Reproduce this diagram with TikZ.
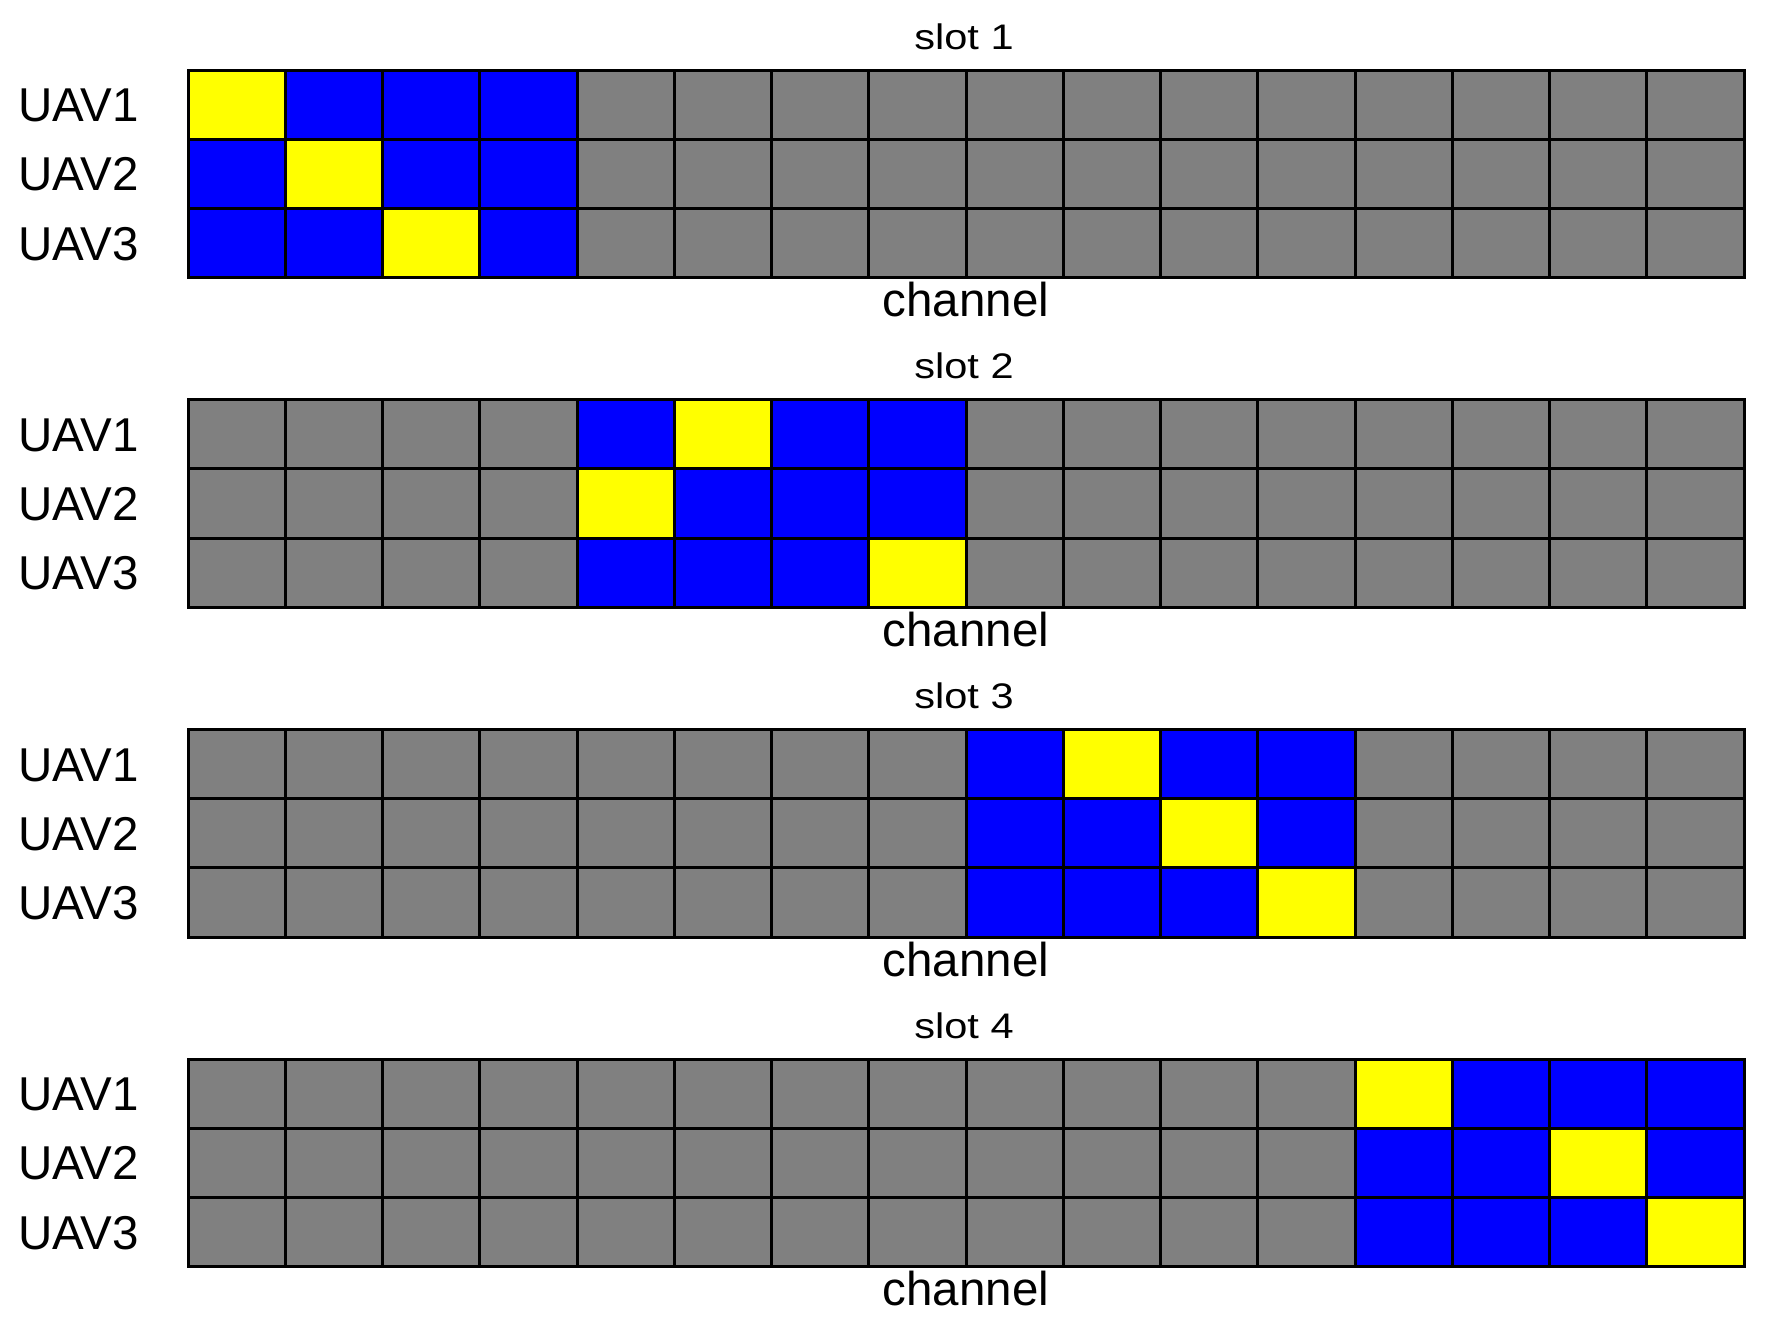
\documentclass[tikz,border=0pt]{standalone}
\usepackage{fontspec}
\setmainfont{Liberation Sans}
\newfontfamily\slotfont[FakeStretch=1.17]{Liberation Sans}
\definecolor{cell0}{RGB}{128,128,128}
\definecolor{cell1}{RGB}{0,0,255}
\definecolor{cell2}{RGB}{255,255,0}
\begin{document}
\begin{tikzpicture}[x=1pt,y=-1pt,
  cellbox/.style={line width=3pt,draw=black},
  lab/.style={font=\fontsize{47.5}{56}\selectfont,inner sep=0pt},
  slotlab/.style={font=\slotfont\fontsize{35.5}{40}\selectfont,inner sep=0pt}]
\useasboundingbox (0,0) rectangle (1772,1331);
\def\cw{97.25}
\def\rh{69.2}
\foreach \s/\ya/\yb/\yc [count=\sn] in {0/0/1/2,1/1/0/3,2/1/2/3,3/0/2/3} {
  \pgfmathsetmacro\tp{70+329.7*\s}
  \pgfmathtruncatemacro\act{4*\s}
  \foreach \r/\y [count=\rn] in {0/\ya,1/\yb,2/\yc} {
    \foreach \c in {0,...,15} {
      \pgfmathtruncatemacro\code{(\c>=\act && \c<\act+4) ? ((\c==\act+\y) ? 2 : 1) : 0}
      \filldraw[cellbox,fill=cell\code] (188+\cw*\c,\tp+\rh*\r) rectangle ++(\cw,\rh);
    }
    \node[lab,anchor=base west] (uav\sn\rn) at (18,\tp+\rh*\r+\rh/2+17) {UAV\rn};
  }
  \node[slotlab,anchor=base] (slot\sn) at (964,\tp-21) {slot \sn};
  \node[lab,anchor=base] (chan\sn) at (966,\tp+3*\rh+39) {channel};
}
\end{tikzpicture}
\end{document}
